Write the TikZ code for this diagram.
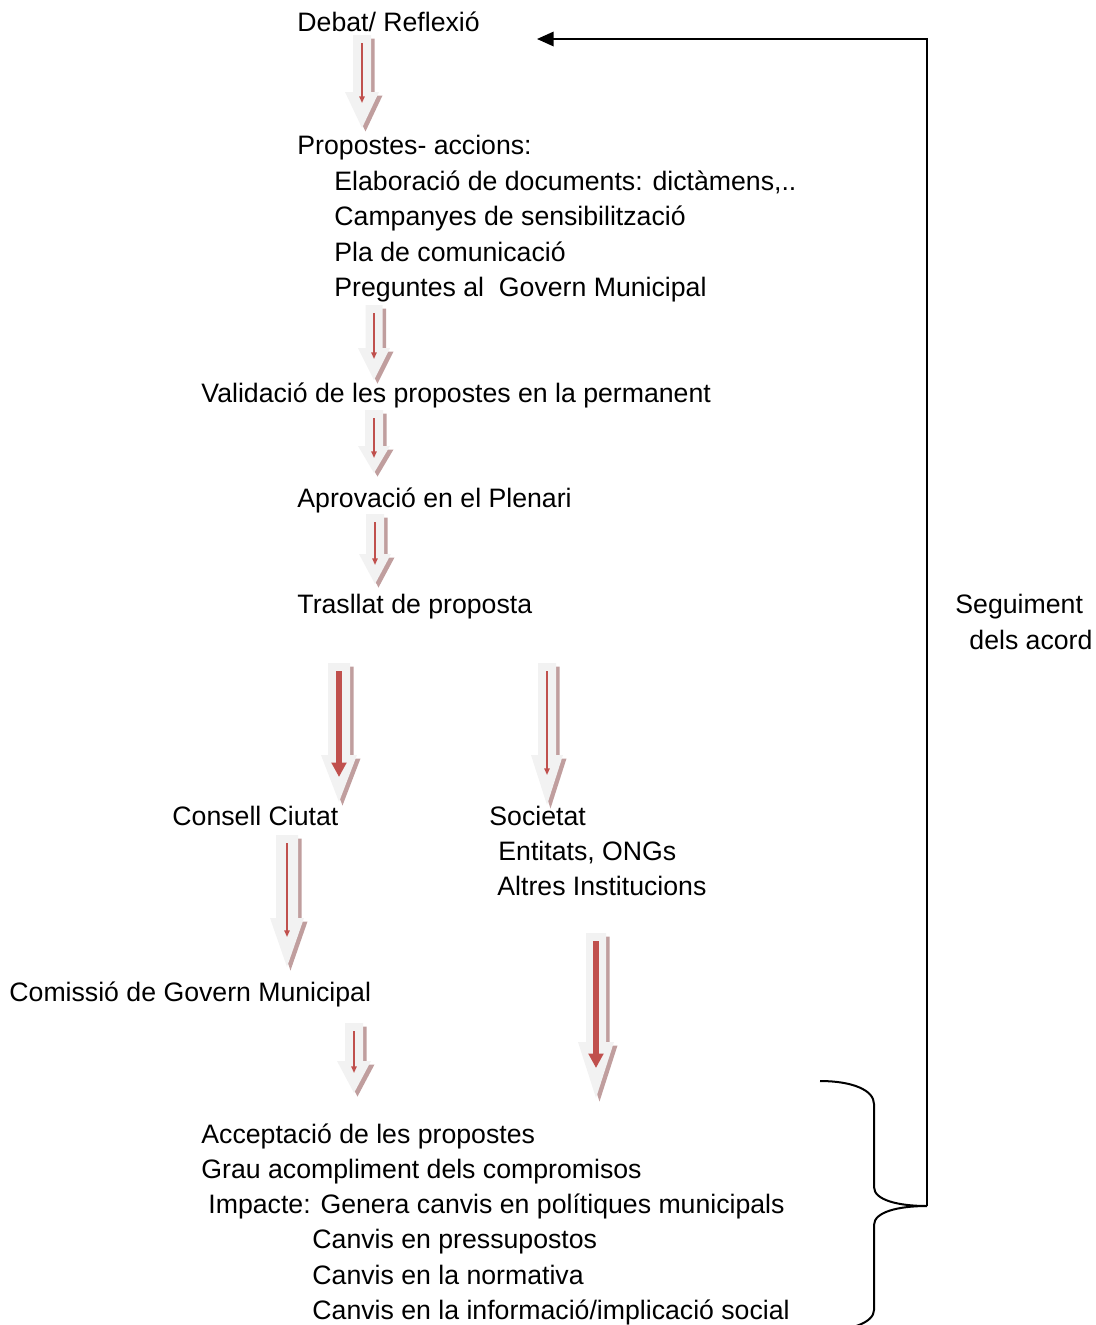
\documentclass[tikz,border=0pt]{standalone}
\usepackage{fontspec}
\setmainfont{Liberation Sans}
\usetikzlibrary{arrows.meta}

\definecolor{arrowgray}{RGB}{242,242,242}
\definecolor{arrowshade}{RGB}{192,158,158}
\definecolor{arrowred}{RGB}{192,80,77}

% block arrow: centre x, top, head start, tip, shaft half width, head half width, end of red line, red style
\newcommand{\blockarrow}[8]{%
  \fill[arrowshade,shift={(3.5,3.5)}] (#1-#5,#2) -- (#1+#5,#2) -- (#1+#5,#3) -- (#1+#6,#3) -- (#1,#4) -- (#1-#6,#3) -- (#1-#5,#3) -- cycle;
  \fill[arrowgray] (#1-#5,#2) -- (#1+#5,#2) -- (#1+#5,#3) -- (#1+#6,#3) -- (#1,#4) -- (#1-#6,#3) -- (#1-#5,#3) -- cycle;
  \draw[#8] (#1,#2+8) -- (#1,#7);
}

\begin{document}
\begin{tikzpicture}[x=0.45pt,y=-0.45pt,
    txt/.style={anchor=base west,inner sep=0pt,font=\fontsize{12}{14}\selectfont},
    thinred/.style={arrowred,line width=0.7pt,-{Triangle[length=3pt,width=2.4pt]}},
    thickred/.style={arrowred,line width=2.8pt,-{Triangle[length=6.5pt,width=6.5pt]}},
    brace/.style={line width=0.9pt},
    back/.style={line width=0.9pt,-{Triangle[length=7.5pt,width=6.5pt]}}]
    \useasboundingbox (0,0) rectangle (1095,1325);

    \node[txt] (debat) at (297,31) {Debat/ Reflexió};
    \node[txt] (propostes) at (297,154) {Propostes- accions:};
    \node[txt] (elab) at (334,190) {Elaboració de documents: dictàmens,..};
    \node[txt] (campanyes) at (334,225) {Campanyes de sensibilització};
    \node[txt] (pla) at (334,261) {Pla de comunicació};
    \node[txt] (preguntes) at (334,296) {Preguntes al\ \ Govern Municipal};
    \node[txt] (validacio) at (201,402) {Validació de les propostes en la permanent};
    \node[txt] (aprovacio) at (297,507) {Aprovació en el Plenari};
    \node[txt] (trasllat) at (297,613) {Trasllat de proposta};
    \node[txt] (seguiment) at (955,613) {Seguiment};
    \node[txt] (acord) at (969,649) {dels acord};
    \node[txt] (consell) at (172,825) {Consell Ciutat};
    \node[txt] (societat) at (489,825) {Societat};
    \node[txt] (entitats) at (498,860) {Entitats, ONGs};
    \node[txt] (altres) at (497,895) {Altres Institucions};
    \node[txt] (comissio) at (9,1001) {Comissió de Govern Municipal};
    \node[txt] (acceptacio) at (201,1143) {Acceptació de les propostes};
    \node[txt] (grau) at (201,1178) {Grau acompliment dels compromisos};
    \node[txt] (impacte) at (208,1213) {Impacte: Genera canvis en polítiques municipals};
    \node[txt] (pressu) at (312,1248) {Canvis en pressupostos};
    \node[txt] (normativa) at (312,1284) {Canvis en la normativa};
    \node[txt] (informacio) at (312,1319) {Canvis en la informació/implicació social};

    % block arrows
    \blockarrow{362}{35}{92}{128}{9}{17}{103}{thinred}
    \blockarrow{374}{305}{348}{380}{8.5}{16}{359}{thinred}
    \blockarrow{374}{410}{446}{473}{9}{16}{458}{thinred}
    \blockarrow{375}{514}{554}{584}{9}{16}{565}{thinred}
    \blockarrow{339}{663}{755}{802}{11}{18}{777}{thickred}
    \blockarrow{547}{663}{755}{805}{9}{16}{775}{thinred}
    \blockarrow{287}{835}{918}{967}{11}{17}{937}{thinred}
    \blockarrow{596}{933}{1042}{1098}{10}{18}{1068}{thickred}
    \blockarrow{354}{1023}{1061}{1093}{9}{17}{1073}{thinred}

    % brace and return line
    \coordinate (bracetip) at (927,1206);
    \coordinate (ret) at (537,39);
    \draw[brace] (820,1081) .. controls (852,1081) and (874,1090) .. (874,1104)
        -- (874,1187) .. controls (874,1200) and (898,1206) .. (bracetip)
        .. controls (898,1206) and (874,1212) .. (874,1225)
        -- (874,1310) .. controls (874,1322) and (852,1331) .. (820,1331);
    \draw[back] (bracetip) |- (ret);
\end{tikzpicture}
\end{document}
